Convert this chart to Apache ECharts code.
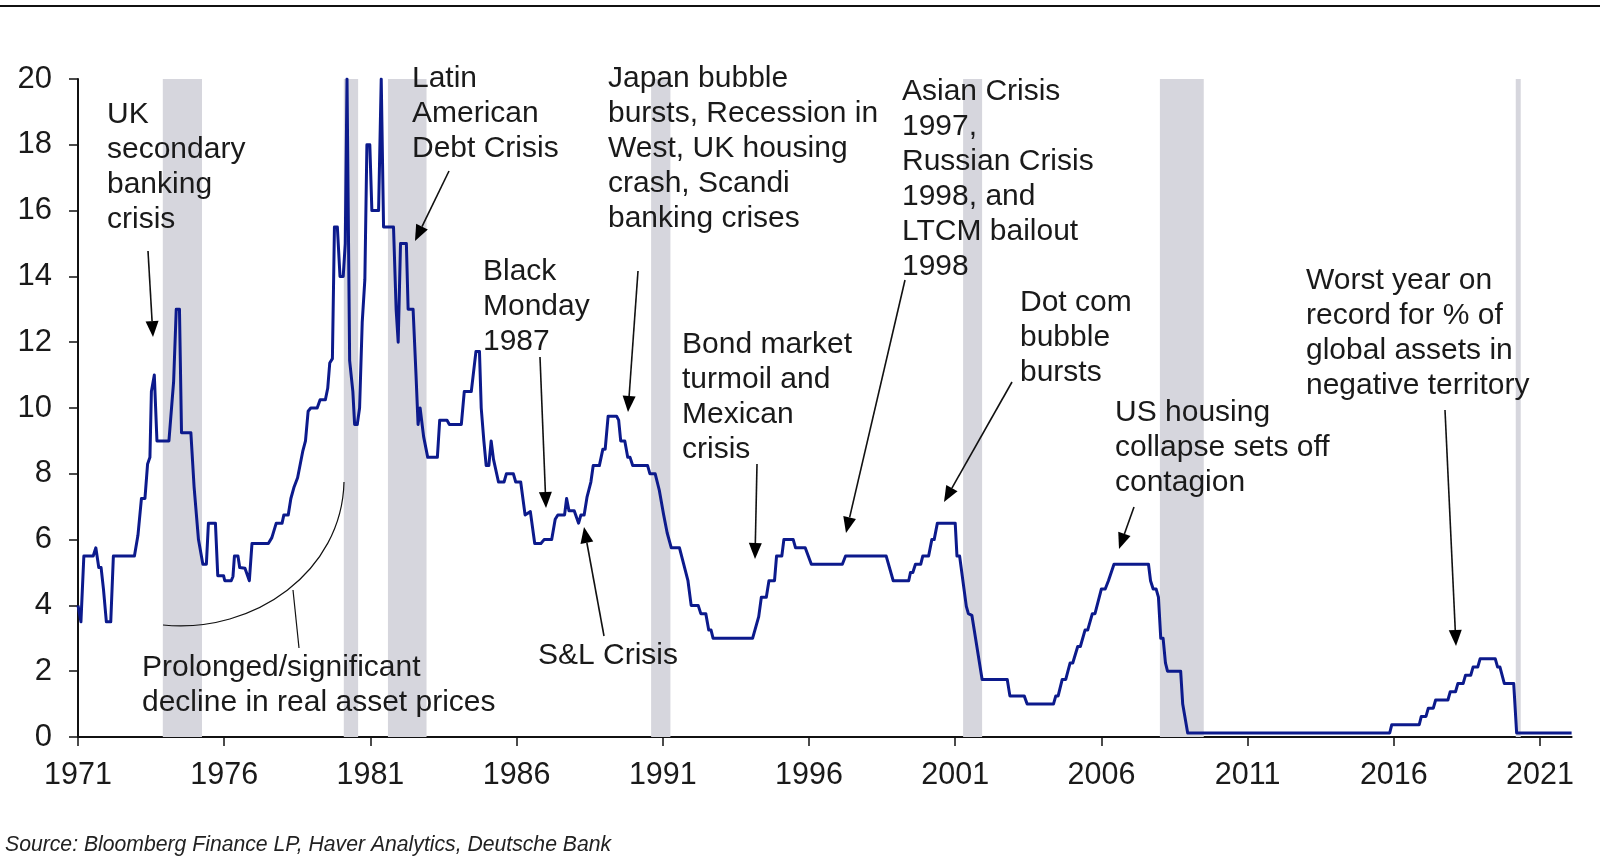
<!DOCTYPE html>
<html><head><meta charset="utf-8">
<style>html,body{margin:0;padding:0;background:#fff}#c{width:1600px;height:858px}</style>
<script src="https://cdn.jsdelivr.net/npm/echarts@6/dist/echarts.min.js"></script>
</head><body><div id="c"></div>
<script>
const years=[1971.0,1971.1,1971.2,1971.52,1971.61,1971.71,1971.79,1971.87,1971.97,1972.12,1972.21,1972.93,1973.05,1973.17,1973.29,1973.38,1973.46,1973.51,1973.61,1973.7,1974.11,1974.27,1974.36,1974.47,1974.54,1974.86,1974.97,1975.12,1975.27,1975.39,1975.46,1975.7,1975.78,1975.98,1976.02,1976.24,1976.3,1976.35,1976.47,1976.53,1976.71,1976.86,1976.95,1977.51,1977.63,1977.78,1977.98,1978.04,1978.19,1978.28,1978.39,1978.51,1978.69,1978.78,1978.87,1978.96,1979.18,1979.28,1979.46,1979.54,1979.61,1979.7,1979.77,1979.87,1979.96,1980.07,1980.14,1980.2,1980.23,1980.29,1980.4,1980.46,1980.55,1980.63,1980.72,1980.81,1980.88,1980.98,1981.05,1981.28,1981.37,1981.39,1981.45,1981.79,1981.88,1981.95,1982.03,1982.23,1982.29,1982.46,1982.56,1982.63,1982.7,1982.82,1982.96,1983.29,1983.37,1983.62,1983.7,1984.11,1984.21,1984.45,1984.61,1984.73,1984.79,1984.88,1984.96,1985.05,1985.13,1985.21,1985.38,1985.57,1985.65,1985.89,1985.97,1986.14,1986.29,1986.47,1986.62,1986.83,1986.94,1987.2,1987.32,1987.41,1987.64,1987.71,1987.79,1987.97,1988.12,1988.2,1988.31,1988.41,1988.54,1988.62,1988.83,1988.95,1989.03,1989.13,1989.42,1989.49,1989.56,1989.7,1989.8,1989.88,1989.97,1990.48,1990.56,1990.74,1990.88,1991.03,1991.15,1991.29,1991.57,1991.86,1991.97,1992.21,1992.3,1992.47,1992.57,1992.65,1992.72,1994.07,1994.28,1994.37,1994.54,1994.63,1994.82,1994.89,1995.07,1995.14,1995.46,1995.54,1995.87,1996.08,1997.14,1997.25,1998.64,1998.88,1999.41,1999.47,1999.55,1999.64,1999.82,1999.89,2000.09,2000.2,2000.28,2000.39,2001.0,2001.06,2001.15,2001.38,2001.45,2001.57,2001.92,2002.78,2002.87,2003.36,2003.46,2004.36,2004.44,2004.52,2004.66,2004.78,2004.93,2005.02,2005.19,2005.28,2005.44,2005.53,2005.69,2005.78,2006.0,2006.13,2006.24,2006.3,2006.43,2007.61,2007.68,2007.77,2007.87,2007.95,2008.03,2008.11,2008.19,2008.26,2008.71,2008.78,2008.84,2008.95,2015.86,2015.93,2016.87,2016.94,2017.1,2017.18,2017.35,2017.43,2017.85,2017.93,2018.11,2018.19,2018.37,2018.45,2018.63,2018.71,2018.87,2018.95,2019.47,2019.55,2019.63,2019.78,2020.1,2020.2,2022.08];
const rates=[4.0,3.5,5.5,5.5,5.75,5.15,5.15,4.5,3.5,3.5,5.5,5.5,6.13,7.25,7.25,8.3,8.5,10.5,11,9,9,10.8,13,13,9.25,9.25,7.6,6,5.25,5.25,6.5,6.5,4.9,4.9,4.75,4.75,4.88,5.5,5.5,5.15,5.13,4.75,5.88,5.88,6.06,6.5,6.5,6.75,6.75,7.25,7.6,7.88,8.7,9,9.9,10,10,10.25,10.25,10.6,11.37,11.5,15.5,15.5,14,14,15,20,20,11.44,10.5,9.5,9.5,10,12.6,13.9,18,18,16,16,20,20,15.5,15.5,13,12,15,15,13,13,11,9.5,10,9.13,8.5,8.5,9.63,9.63,9.5,9.5,10.5,10.5,11.72,11.72,10,9,8.25,8.25,9,8.44,7.75,7.75,8,8,7.75,7.75,6.75,6.85,5.88,5.88,6,6,6.62,6.75,6.75,7.25,6.88,6.88,6.5,6.75,6.75,7.3,7.75,8.25,8.25,8.75,8.75,9.75,9.75,9.63,9,9,8.5,8.5,8.25,8.25,8,8,7.5,6.75,6.2,5.75,5.75,4.75,4,4,3.75,3.75,3.25,3.25,3,3,3.66,4.25,4.25,4.75,4.75,5.5,5.5,6,6,5.75,5.75,5.25,5.25,5.5,5.5,4.75,4.75,5,5,5.25,5.25,5.5,5.5,6,6,6.5,6.5,5.5,5.5,3.97,3.75,3.7,1.75,1.75,1.25,1.25,1,1,1.25,1.25,1.75,1.75,2.25,2.25,2.75,2.75,3.25,3.25,3.75,3.75,4.5,4.5,4.75,4.75,5.25,5.25,4.75,4.5,4.5,4.25,3,3,2.25,2,2,1,1,0.125,0.125,0.375,0.375,0.625,0.625,0.875,0.875,1.125,1.125,1.375,1.375,1.625,1.625,1.875,1.875,2.125,2.125,2.375,2.375,2.125,2.125,1.625,1.625,0.125,0.125];
const crisisStart=[1973.9,1980.09,1981.6,1990.6,2001.27,2008.0,2020.17];
const crisisEnd=[1975.24,1980.58,1982.92,1991.26,2001.92,2009.5,2020.34];
const xTicks=[1971,1976,1981,1986,1991,1996,2001,2006,2011,2016,2021];
const yTicks=[0,2,4,6,8,10,12,14,16,18,20];
const sourceText='Source: Bloomberg Finance LP, Haver Analytics, Deutsche Bank';
const notes=[
 ['UK\nsecondary\nbanking\ncrisis',107,97],
 ['Latin\nAmerican\nDebt Crisis',412,61],
 ['Black\nMonday\n1987',483,254],
 ['Japan bubble\nbursts, Recession in\nWest, UK housing\ncrash, Scandi\nbanking crises',608,61],
 ['Asian Crisis\n1997,\nRussian Crisis\n1998, and\nLTCM bailout\n1998',902,74],
 ['Dot com\nbubble\nbursts',1020,285],
 ['Bond market\nturmoil and\nMexican\ncrisis',682,327],
 ['US housing\ncollapse sets off\ncontagion',1115,395],
 ['Worst year on\nrecord for % of\nglobal assets in\nnegative territory',1306,263],
 ['S&L Crisis',538,638],
 ['Prolonged/significant\ndecline in real asset prices',142,650]
];
const arrows=[[148,251,153,337],[449,171,415,241],[540,357,546,508],[638,271,628,412],[604,636,584,527],[757,464,755,559],[905,280,846,533],[1012,382,944,502],[1134,507,1119,549],[1445,410,1456,646]];
const ff='"Liberation Sans"';
const graphic=[];
graphic.push({type:'line',shape:{x1:0,y1:6,x2:1600,y2:6},style:{stroke:'#111',lineWidth:2},z:10});
graphic.push({type:'text',x:5,y:835,style:{text:sourceText,font:'italic 21.2px '+ff,fill:'#222',textVerticalAlign:'top'},z:10});
notes.forEach(n=>graphic.push({type:'text',x:n[1],y:n[2],z:10,style:{text:n[0],font:'30px '+ff,lineHeight:35,fill:'#1a1a1a'}}));
arrows.forEach(a=>{
  const [x1,y1,x2,y2]=a,ang=Math.atan2(y2-y1,x2-x1),L=16,W=6.5;
  const bx=x2-L*Math.cos(ang),by=y2-L*Math.sin(ang),nx=-Math.sin(ang),ny=Math.cos(ang);
  graphic.push({type:'line',z:10,shape:{x1,y1,x2:bx,y2:by},style:{stroke:'#111',lineWidth:1.6}});
  graphic.push({type:'polygon',z:10,shape:{points:[[x2,y2],[bx+nx*W,by+ny*W],[bx-nx*W,by-ny*W]]},style:{fill:'#000'}});
});
graphic.push({type:'bezierCurve',z:10,shape:{x1:163,y1:625,cpx1:255,cpy1:634,cpx2:342,cpy2:571,x2:344,y2:482},style:{stroke:'#111',lineWidth:1.2,fill:'none'}});
graphic.push({type:'line',z:10,shape:{x1:293,y1:590,x2:299,y2:648},style:{stroke:'#111',lineWidth:1.2}});

const chart=echarts.init(document.getElementById('c'),null,{renderer:'canvas'});
chart.setOption({
 animation:false,
 graphic,
 grid:{left:78,top:79,right:28.4,bottom:121},
 xAxis:{type:'value',min:1971,max:2022.08,splitLine:{show:false},
  axisLine:{lineStyle:{color:'#111',width:2}},
  axisTick:{show:true,length:9,lineStyle:{color:'#111',width:1.5},customValues:xTicks},
  axisLabel:{customValues:xTicks,formatter:v=>String(v),color:'#1a1a1a',fontSize:30.5,fontFamily:ff,margin:23}},
 yAxis:{type:'value',min:0,max:20,interval:2,splitLine:{show:false},
  axisLine:{show:true,lineStyle:{color:'#111',width:2}},
  axisTick:{show:true,length:9,lineStyle:{color:'#111',width:1.5}},
  axisLabel:{color:'#1a1a1a',fontSize:31,fontFamily:ff,margin:26,formatter:v=>yTicks.includes(v)?String(v):''}},
 series:[{type:'line',showSymbol:false,symbol:'none',smooth:false,
  data:years.map((y,i)=>[y,rates[i]]),
  lineStyle:{color:'#0c1a8c',width:3,join:'round'},
  markArea:{silent:true,itemStyle:{color:'#d6d6dd'},z:1,data:crisisStart.map((s,i)=>[{xAxis:s},{xAxis:crisisEnd[i]}])}
 }]
});
</script></body></html>
